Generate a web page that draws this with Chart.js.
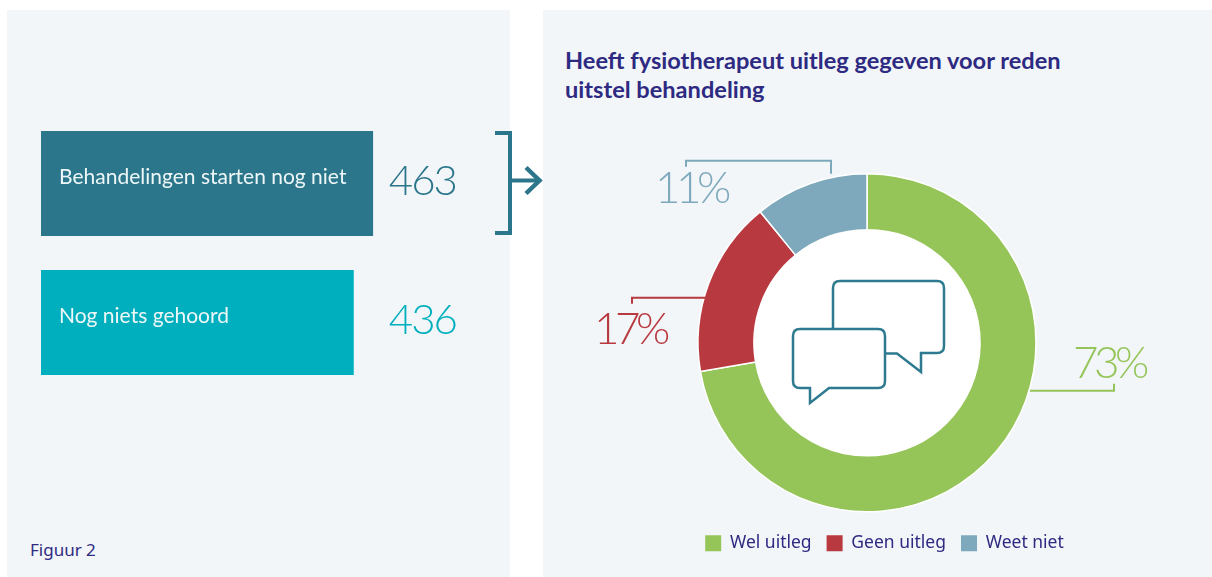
<!DOCTYPE html>
<html lang="nl"><head><meta charset="utf-8"><title>Figuur 2</title>
<script src="https://cdn.jsdelivr.net/npm/chart.js@4"></script>
<style>
html,body{margin:0;padding:0;background:#fff;width:1212px;height:577px;overflow:hidden}
.panel{position:absolute;background:#f2f6f9}
#pl{left:7px;top:10px;width:503px;height:567px}
#pr{left:543px;top:10px;width:669px;height:567px}
#title{position:absolute;left:565px;top:46px;font:bold 23.6px/29px Lato,sans-serif;color:#2e2a82;white-space:nowrap}
#fig{position:absolute;left:30px;top:538px;font:17px "Noto Sans",sans-serif;color:#2e2a82}
.wrap{position:absolute}
svg{position:absolute;left:0;top:0}
</style></head><body>
<div class="panel" id="pl"></div><div class="panel" id="pr"></div>
<div id="title">Heeft fysiotherapeut uitleg gegeven voor reden<br>uitstel behandeling</div>
<div id="fig">Figuur 2</div>
<div class="wrap" style="left:41px;top:114px;width:464px;height:278px"><canvas id="bars"></canvas></div>
<div class="wrap" style="left:522px;top:150px;width:690px;height:412px"><canvas id="donut"></canvas></div>
<svg width="1212" height="577" fill="none" stroke="#2c768b">
<path d="M495 133H510V233H495" stroke-width="4"/>
<path d="M510 180.5H539" stroke-width="4"/>
<path d="M526 167.5L539.5 180.5L526 193.5" stroke-width="4.5"/>
<g stroke="#2e7a90" stroke-width="2.5" stroke-linejoin="miter">
<path d="M833 328V288Q833 281 840 281H937Q944 281 944 288V346Q944 353 937 353H921V372L897 353.5H886"/>
<path d="M800 329H878Q885 329 885 336V381Q885 388 878 388H829L810 403V388H800Q793 388 793 381V336Q793 329 800 329Z"/>
</g></svg>
<script>
const barCategories = ["Behandelingen starten nog niet", "Nog niets gehoord"];
const barValues = [463, 436];
const barColors = ["#2c768b", "#00afbd"];
const donutLabels = ["Wel uitleg", "Geen uitleg", "Weet niet"];
const donutValues = [73, 17, 11];
const donutColors = ["#95c559", "#b8393f", "#7ea9bc"];

Chart.defaults.animation = false;

const barText = {
  id: 'barText',
  afterDatasetsDraw(chart) {
    const { ctx, scales } = chart;
    const meta = chart.getDatasetMeta(0);
    const numX = scales.x.getPixelForValue(Math.max(...barValues)) + 16;
    meta.data.forEach((b, i) => {
      ctx.save();
      ctx.textBaseline = 'alphabetic';
      ctx.fillStyle = '#eef7f8';
      ctx.font = '400 21px Lato, sans-serif';
      ctx.fillText(barCategories[i], scales.x.left + 18, b.y);
      ctx.fillStyle = barColors[i];
      ctx.font = '300 42px Lato, sans-serif';
      ctx.letterSpacing = '-2px';
      ctx.fillText(String(barValues[i]), numX, b.y + 11);
      ctx.restore();
    });
  }
};

new Chart(document.getElementById('bars'), {
  type: 'bar',
  data: { labels: barCategories, datasets: [{ data: barValues, backgroundColor: barColors, barThickness: 104.5 }] },
  options: {
    indexAxis: 'y', responsive: true, maintainAspectRatio: false,
    layout: { padding: { right: 105 } },
    plugins: { legend: { display: false }, tooltip: { enabled: false } },
    scales: {
      x: { display: false, min: 0, max: 501 },
      y: { display: false, offset: true }
    }
  },
  plugins: [barText]
});

/* leader lines and labels, as offsets from the doughnut centre */
const leaders = [
  { pts: [[163, 48], [247, 48], [247, 41]], text: [206, 35] },
  { pts: [[-161, -45], [-235, -45], [-235, -39]], text: [-273, 1] },
  { pts: [[-36, -169], [-36, -182], [-181, -182], [-181, -176]], text: [-212, -140] }
];
const donutDecor = {
  id: 'donutDecor',
  beforeDatasetsDraw(chart) {
    const a = chart.getDatasetMeta(0).data[0];
    const { ctx } = chart;
    ctx.save();
    ctx.fillStyle = '#fff';
    ctx.beginPath();
    ctx.arc(a.x, a.y, a.innerRadius, 0, Math.PI * 2);
    ctx.fill();
    ctx.restore();
  },
  afterDatasetsDraw(chart) {
    const a = chart.getDatasetMeta(0).data[0];
    const { ctx } = chart;
    leaders.forEach((l, i) => {
      ctx.save();
      ctx.strokeStyle = donutColors[i];
      ctx.lineWidth = 2;
      ctx.beginPath();
      l.pts.forEach((p, k) => k ? ctx.lineTo(a.x + p[0], a.y + p[1]) : ctx.moveTo(a.x + p[0], a.y + p[1]));
      ctx.stroke();
      ctx.fillStyle = donutColors[i];
      ctx.font = '300 44px Lato, sans-serif';
      ctx.letterSpacing = '-4.5px';
      ctx.textBaseline = 'alphabetic';
      ctx.textAlign = 'left';
      ctx.fillText(donutValues[i] + '%', a.x + l.text[0], a.y + l.text[1]);
      ctx.restore();
    });
  },
  afterLayout(chart) {
    chart.legend.left += 17.5;
    chart.legend.right += 17.5;
  }
};

new Chart(document.getElementById('donut'), {
  type: 'doughnut',
  data: { labels: donutLabels, datasets: [{ data: donutValues, backgroundColor: donutColors, borderColor: '#fff', borderWidth: 1.5, radius: 169, cutout: '66.9%' }] },
  options: {
    responsive: true, maintainAspectRatio: false,
    layout: { padding: { top: 16 } },
    plugins: {
      tooltip: { enabled: false },
      legend: {
        position: 'bottom',
        labels: {
          boxWidth: 16, boxHeight: 16, padding: 15, color: '#2e2a82',
          font: { family: '"Noto Sans", sans-serif', size: 17.5 },
          generateLabels(c) {
            return Chart.overrides.doughnut.plugins.legend.labels.generateLabels(c).map(x => ({ ...x, lineWidth: 0 }));
          }
        }
      }
    }
  },
  plugins: [donutDecor]
});
</script></body></html>
